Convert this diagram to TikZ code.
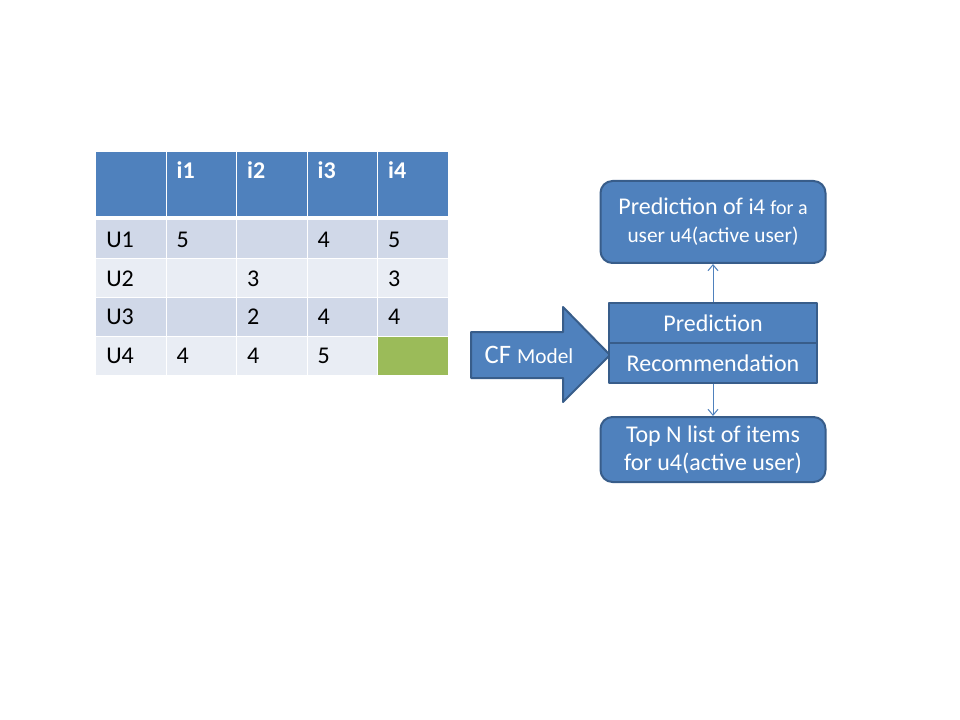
\documentclass[tikz,border=0pt]{standalone}
\usepackage{fontspec}
\setmainfont{Carlito}
\usetikzlibrary{arrows.meta,matrix,positioning}
\definecolor{cfBlue}{HTML}{4F81BD}
\definecolor{cfEdge}{HTML}{385D8A}
\definecolor{cfRowA}{HTML}{D0D8E8}
\definecolor{cfRowB}{HTML}{E9EDF4}
\definecolor{cfGreen}{HTML}{9BBB59}
\tikzset{
  cf diagram/.style={x=0.75pt, y=-0.75pt, font=\fontsize{18}{21}\selectfont,
    line join=round},
  cf cell/.style={fill=cfRowA, text=black, text width=37.1pt, align=left,
    inner xsep=7.5pt, inner ysep=0pt, minimum height=28.5pt,
    text height=11.6pt, text depth=0pt, anchor=center},
  cf head/.style={cf cell, fill=cfBlue, text=white,
    font=\fontsize{18}{21}\selectfont\bfseries,
    text height=16.5pt, text depth=25.5pt, inner ysep=3pt},
  cf box/.style={draw=cfEdge, fill=cfBlue, line width=1.5pt, text=white,
    align=center, rounded corners=9pt, minimum width=168.75pt,
    font=\fontsize{18}{21}\selectfont},
  cf stage/.style={cf box, rounded corners=0pt, minimum width=156pt,
    minimum height=30pt},
  cf link/.style={draw=cfBlue, line width=0.75pt,
    -{Straight Barb[length=4.5pt,width=7.5pt]}}
}
\begin{document}
\begin{tikzpicture}[cf diagram]
\fill[white] (0,0) rectangle (960,720);
\useasboundingbox (0,0) rectangle (960,720);
% rating matrix
\matrix (ratings) [matrix of nodes, nodes in empty cells, inner sep=0pt,
  anchor=north west, column sep=0.75pt, row sep=0.75pt,
  nodes={cf cell},
  row 1/.style={nodes={cf head}},
  row 3/.style={nodes={fill=cfRowB}},
  row 5/.style={nodes={fill=cfRowB}},
  row 5 column 5/.style={nodes={fill=cfGreen}}] at (96,152) {
     & i1 & i2 & i3 & i4 \\[2.25pt]
  U1 & 5  &    & 4  & 5  \\
  U2 &    & 3  &    & 3  \\
  U3 &    & 2  & 4  & 4  \\
  U4 & 4  & 4  & 5  &    \\
};
% CF model block arrow
\draw[draw=cfEdge, fill=cfBlue, line width=1.5pt]
  (471,332) -- (563,332) -- (563,307) -- (610,355) -- (563,402)
  -- (563,378) -- (471,378) -- cycle;
\node[text=white] (cfmodel) at (529,355)
  {\fontsize{20}{22}\selectfont CF \fontsize{16}{22}\selectfont Model};
% prediction / recommendation stages
\node[cf stage] (pred) at (713,323) {Prediction};
\node[cf stage, below=-1.5pt of pred] (recm) {Recommendation};
\node[cf box, minimum height=61.5pt, above=28.5pt of pred] (predout)
  {Prediction of {\fontsize{17}{21}\selectfont i4 }{\fontsize{15}{21}\selectfont for a}\\
   {\fontsize{16}{21}\selectfont user u4(active user)}};
\node[cf box, minimum height=48.75pt, below=24pt of recm] (topn)
  {Top N list of items\\ for u4(active user)};
\draw[cf link] (pred.north) -- (predout.south);
\draw[cf link] (recm.south) -- (topn.north);
\end{tikzpicture}
\end{document}
